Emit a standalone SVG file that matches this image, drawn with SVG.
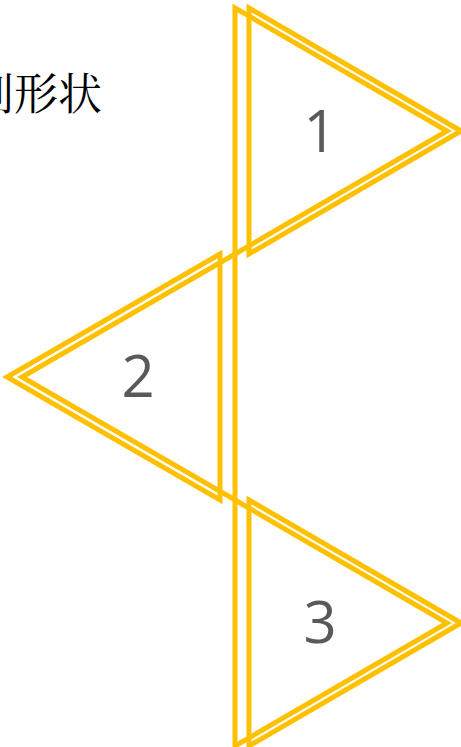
<svg xmlns="http://www.w3.org/2000/svg" width="461" height="747" viewBox="0 0 461 747">
  <style>
    .tri { fill: none; stroke: #FFC000; stroke-width: 5; stroke-linejoin: miter; }
    .num { font-family: "Segoe UI", "Open Sans", "Noto Sans", sans-serif; font-size: 58px; fill: #595959; text-anchor: middle; }
    .title { font-family: "Noto Serif CJK SC", "Noto Sans CJK SC", serif; font-size: 44px; fill: #000000; }
  </style>
  <rect width="461" height="747" fill="#FFFFFF"/>
  <text class="title" x="-30" y="110">列形状</text>
  <g id="triangle-1">
    <polygon class="tri" points="235,8 447,131 235,254"/>
    <polygon class="tri" points="249,8 461,131 249,254"/>
    <text class="num" x="320" y="152">1</text>
  </g>
  <g id="triangle-2">
    <polygon class="tri" points="235,254 22,377 235,500"/>
    <polygon class="tri" points="220,254 7,377 220,500"/>
    <text class="num" x="138" y="397">2</text>
  </g>
  <g id="triangle-3">
    <polygon class="tri" points="235,500 447,623 235,746"/>
    <polygon class="tri" points="249,500 461,623 249,746"/>
    <text class="num" x="320" y="643">3</text>
  </g>
  <g id="connectors"></g>
</svg>
